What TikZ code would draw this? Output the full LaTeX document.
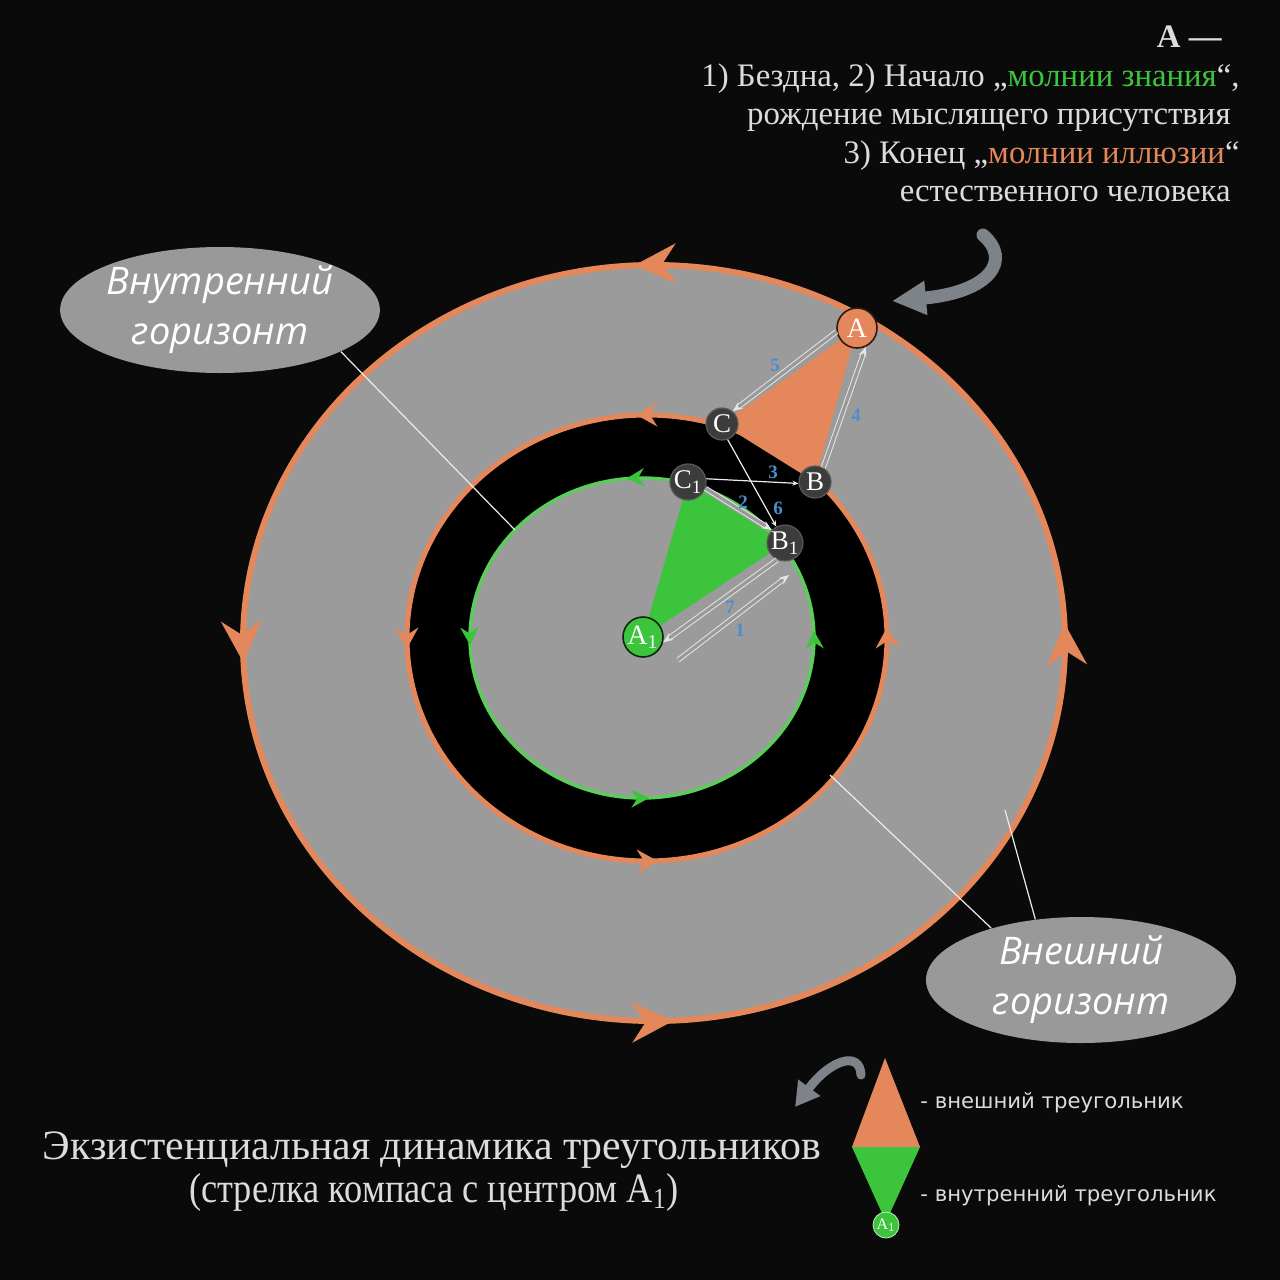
\documentclass[tikz,border=0pt]{standalone}
\usepackage{fontspec}
\setmainfont{Liberation Serif}
\newfontfamily\lblfont{Open Sans}
\newfontfamily\legfont{DejaVu Sans}
\usetikzlibrary{arrows.meta,decorations.markings,shapes.geometric}
\definecolor{orng}{HTML}{E4875A}
\definecolor{grn}{HTML}{3CC43C}
\definecolor{grnline}{HTML}{5ACD5A}
\definecolor{ringgray}{HTML}{9B9B9B}
\definecolor{lblgray}{HTML}{999999}
\definecolor{nodegray}{HTML}{3C3C3C}
\definecolor{bgc}{HTML}{0A0A0A}
\definecolor{txt}{HTML}{DCDCDC}
\definecolor{numblue}{HTML}{4C8DD0}
\definecolor{curvegray}{HTML}{7E838A}
\tikzset{
  ptnode/.style={circle, inner sep=0pt, minimum size=16pt, fill=nodegray, draw=gray!70!black, line width=0.6pt, text=white, font=\fontsize{13.5}{14}\selectfont},
  bignode/.style={circle, inner sep=0pt, minimum size=20pt, line width=0.8pt, text=white, font=\fontsize{14}{14}\selectfont},
  dbl/.style={draw=white!80!gray, double=gray!80, line width=0.5pt, double distance=1.6pt, -{Stealth[length=5pt,width=4pt]}},
  thin/.style={draw=white!85!gray, line width=0.6pt, -{Stealth[length=3pt,width=2.5pt]}},
  num/.style={text=numblue, font=\bfseries\fontsize{9.5}{10}\selectfont, inner sep=0pt},
  lbl/.style={ellipse, fill=lblgray, minimum width=155pt, minimum height=63pt, inner sep=0pt, text=white, align=center, font=\lblfont\itshape\fontsize{19}{25}\selectfont},
  lblline/.style={draw=white!85!gray, line width=0.6pt},
  toptxt/.style={anchor=base east, text=txt, inner sep=0pt, font=\fontsize{16.4}{18}\selectfont},
  legtxt/.style={anchor=base west, text=txt, inner sep=0pt, font=\legfont\fontsize{10.6}{12}\selectfont},
  titletxt/.style={anchor=base, text=txt, inner sep=0pt, font=\fontsize{20.9}{24}\selectfont},
}
\begin{document}
\begin{tikzpicture}[x=0.5pt,y=-0.5pt]
\useasboundingbox (0,0) rectangle (1280,1280);
\fill[bgc] (0,0) rectangle (1280,1280);

% ring fills
\fill[ringgray] (654,643) ellipse [x radius=411, y radius=378];
\fill[black] (647,638) ellipse [x radius=240, y radius=223];
\fill[ringgray] (642,638) ellipse [x radius=172, y radius=160];

% ring strokes with direction arrows
\draw[orng, line width=3pt, postaction={decorate}, decoration={markings,
  mark=at position 0.242 with {\arrowreversed{Stealth[length=21pt,width=20pt,inset=7pt,color=orng]}},
  mark=at position 0.492 with {\arrowreversed{Stealth[length=21pt,width=20pt,inset=7pt,color=orng]}},
  mark=at position 0.742 with {\arrowreversed{Stealth[length=21pt,width=20pt,inset=7pt,color=orng]}},
  mark=at position 0.992 with {\arrowreversed{Stealth[length=21pt,width=20pt,inset=7pt,color=orng]}}}]
  (654,643) ellipse [x radius=411, y radius=378];
\draw[orng, line width=2.5pt, postaction={decorate}, decoration={markings,
  mark=at position 0.243 with {\arrowreversed{Stealth[length=10pt,width=12pt,inset=3.5pt,color=orng]}},
  mark=at position 0.493 with {\arrowreversed{Stealth[length=10pt,width=12pt,inset=3.5pt,color=orng]}},
  mark=at position 0.743 with {\arrowreversed{Stealth[length=10pt,width=12pt,inset=3.5pt,color=orng]}},
  mark=at position 0.993 with {\arrowreversed{Stealth[length=10pt,width=12pt,inset=3.5pt,color=orng]}}}]
  (647,638) ellipse [x radius=240, y radius=223];
\draw[grnline, line width=1.7pt, postaction={decorate}, decoration={markings,
  mark=at position 0.243 with {\arrowreversed{Stealth[length=9pt,width=9pt,inset=3pt,color=grn]}},
  mark=at position 0.493 with {\arrowreversed{Stealth[length=9pt,width=9pt,inset=3pt,color=grn]}},
  mark=at position 0.735 with {\arrowreversed{Stealth[length=9pt,width=9pt,inset=3pt,color=grn]}},
  mark=at position 0.993 with {\arrowreversed{Stealth[length=9pt,width=9pt,inset=3pt,color=grn]}}}]
  (642,638) ellipse [x radius=172, y radius=160];

% node coordinates
\coordinate (pA) at (857,328);
\coordinate (pC) at (722,424);
\coordinate (pB) at (815,482);
\coordinate (pC1) at (688,482);
\coordinate (pB1) at (785,543);
\coordinate (pA1) at (643,637);

% triangles
\fill[orng] (pA) -- (pC) -- (pB) -- cycle;
\fill[grn] (pA1) -- (pC1) -- (pB1) -- cycle;

% nodes
\node[bignode, fill=orng, draw=black!80!orng] (A) at (pA) {A};
\node[ptnode] (C) at (pC) {C};
\node[ptnode] (B) at (pB) {B};
\node[ptnode] (C1) at (pC1) {C\textsubscript{1}};
\node[ptnode] (B1) at (pB1) {B\textsubscript{1}};
\node[bignode, fill=grn, draw=black!80!grn] (A1) at (pA1) {A\textsubscript{1}};

% connectors
\draw[dbl] (A.190) -- (C.50);
\draw[dbl] (B.60) -- (A.295);
\draw[thin] (C1.10) -- (B.185);
\draw[dbl] (C1.-20) -- (B1.135);
\draw[thin] (C.-70) -- (B1.118);
\draw[dbl] (B1.245) -- (A1.-15);
\coordinate (oneS) at (678,660);
\coordinate (oneE) at (789,575);
\draw[dbl] (oneS) -- (oneE);

% numbers
\node[num] (n5) at (775,365) {5};
\node[num] (n4) at (856,415) {4};
\node[num] (n3) at (773,472) {3};
\node[num] (n2) at (743,502) {2};
\node[num] (n6) at (778,508) {6};
\node[num] (n7) at (730,607) {7};
\node[num] (n1) at (740,630) {1};

% horizon labels
\node[lbl] (lblIn) at (220,310) {Внутренний\\горизонт};
\node[lbl] (lblOut) at (1081,980) {Внешний\\горизонт};
\coordinate (inPt) at (515,530);
\coordinate (outPt1) at (830,775);
\coordinate (outPt2) at (1005,810);
\draw[lblline] (lblIn.-19) -- (inPt);
\draw[lblline] (lblOut.150) -- (outPt1);
\draw[lblline] (lblOut.127) -- (outPt2);

% top text
\node[toptxt, font=\bfseries\fontsize{16.4}{18}\selectfont] (t0) at (1222,47) {А —};
\node[toptxt] (t1) at (1240,86) {1) Бездна, 2) Начало „\textcolor{grn}{молнии знания}“,};
\node[toptxt] (t2) at (1231,124) {рождение мыслящего присутствия};
\node[toptxt] (t3) at (1240,163) {3) Конец „\textcolor{orng}{молнии иллюзии}“};
\node[toptxt] (t4) at (1231,201) {естественного человека};

% curved arrows
\coordinate (cTopS) at (983,235);
\coordinate (cTopE) at (892,301);
\draw[curvegray, line width=6.5pt, line cap=round, -{Triangle[length=17pt,width=16pt]}]
  (cTopS) .. controls (1012,260) and (990,292) .. (cTopE);
\coordinate (cBotS) at (861,1075);
\coordinate (cBotE) at (795,1107);
\draw[curvegray, line width=4.5pt, line cap=round, -{Triangle[length=12pt,width=13pt]}]
  (cBotS) .. controls (860,1050) and (830,1060) .. (cBotE);

% legend
\fill[orng] (885,1058) -- (852,1147) -- (920,1147) -- cycle;
\fill[grn] (852,1147) -- (920,1147) -- (886,1222) -- cycle;
\node[circle, fill=grn, draw=white!70!grn, line width=0.4pt, minimum size=13pt, inner sep=0pt, text=white, font=\fontsize{8}{8}\selectfont] (legA1) at (886,1225) {A\textsubscript{1}};
\node[legtxt] (leg1) at (920,1108) {- внешний треугольник};
\node[legtxt] (leg2) at (920,1201) {- внутренний треугольник};

% title
\node[titletxt] (title1) at (432,1159) {Экзистенциальная динамика треугольников};
\node[titletxt] (title2) at (434,1202) {\scalebox{0.87}[1]{(стрелка компаса с центром A\textsubscript{1})}};
\end{tikzpicture}
\end{document}
